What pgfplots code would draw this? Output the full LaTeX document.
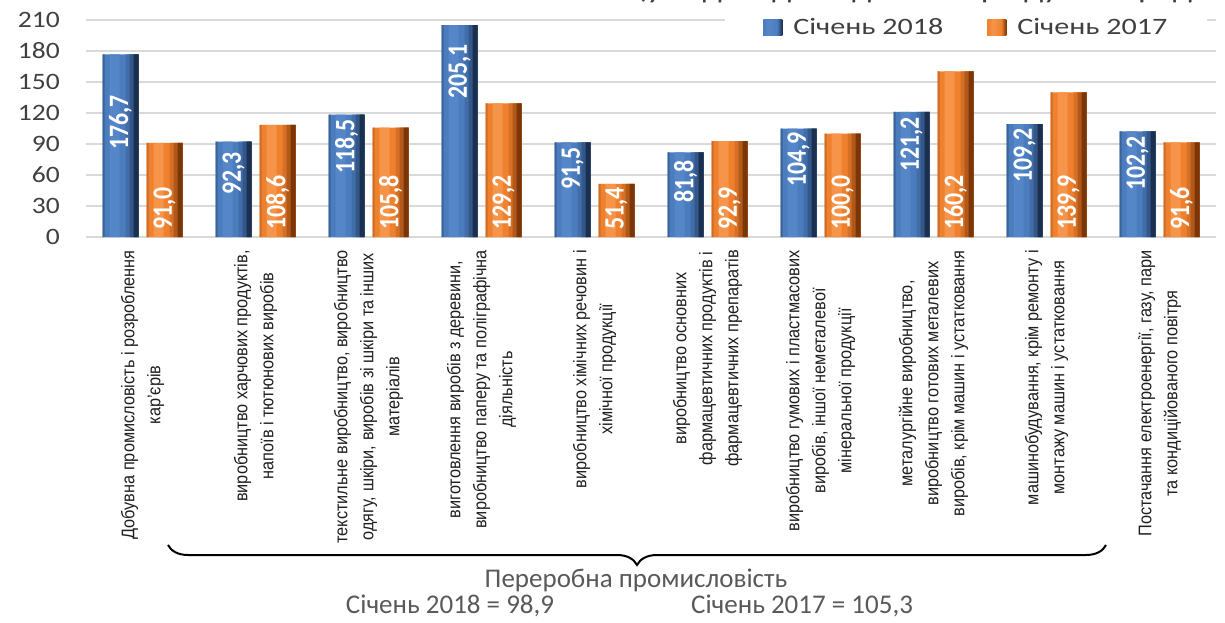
\documentclass[border=0pt]{standalone}
\usepackage{pgfplots}
\usepackage{pgfplotstable}
\pgfplotsset{compat=1.18}
\usepackage{fontspec}
\usetikzlibrary{decorations.pathreplacing}
\setmainfont{Carlito}
\newfontfamily\tickfont[FakeStretch=1.17]{Carlito}
\newfontfamily\legfont[FakeStretch=1.28]{Carlito}
\newfontfamily\valfont[FakeStretch=0.85]{Carlito}
\newfontfamily\catfont[FakeStretch=0.89]{Liberation Sans}

\definecolor{bL}{HTML}{5486C8}
\definecolor{bM}{HTML}{4A7CBE}
\definecolor{bD}{HTML}{1B2F4E}
\definecolor{oL}{HTML}{F6944A}
\definecolor{oM}{HTML}{EF812E}
\definecolor{oD}{HTML}{7A3508}
\definecolor{gridc}{HTML}{D9D9D9}
\definecolor{txt}{HTML}{404040}
\definecolor{txt2}{HTML}{595959}

\pgfdeclarehorizontalshading{blueshade}{100bp}{color(0bp)=(bM); color(25bp)=(bM); color(40bp)=(bL); color(62bp)=(bM); color(75bp)=(bD); color(100bp)=(bD)}
\pgfdeclarehorizontalshading{orangeshade}{100bp}{color(0bp)=(oM); color(25bp)=(oM); color(40bp)=(oL); color(62bp)=(oM); color(75bp)=(oD); color(100bp)=(oD)}

% x, value Jan 2018, value Jan 2017, position of the top of the Jan 2018 label
\pgfplotstableread{
x y18 y17 lp18
0 176.7 91.0 139.4
1 92.3 108.6 84.2
2 118.5 105.8 116.1
3 205.1 129.2 188.7
4 91.5 51.4 89.0
5 81.8 92.9 76.5
6 104.9 100.0 103.5
7 121.2 160.2 118.1
8 109.2 139.9 107.4
9 102.2 91.6 99.7
}\datatable

\newcommand{\valnum}{\pgfmathprintnumber[fixed, fixed zerofill, precision=1, use comma]{\pgfplotspointmeta}}

\begin{document}
\begin{tikzpicture}
\useasboundingbox (0pt,0pt) rectangle (1225pt,-623pt);
\begin{axis}[
  at={(86pt,-237pt)}, anchor=south west,
  scale only axis, width=1130pt, height=217pt,
  xmin=-0.5, xmax=9.5, ymin=0, ymax=210,
  ytick={0,30,...,210},
  ymajorgrids, major grid style={draw=gridc, line width=1.3pt},
  axis line style={draw=none},
  major tick length=0pt,
  xtick={0,...,9},
  xticklabels={
    {Добувна промисловість і розроблення\\кар’єрів},
    {виробництво  харчових продуктів,\\напоїв і тютюнових виробів},
    {текстильне виробництво, виробництво\\одягу, шкіри, виробів зі шкіри та інших\\матеріалів},
    {виготовлення виробів з деревини,\\виробництво паперу та поліграфічна\\діяльність},
    {виробництво хімічних речовин і\\хімічної продукції},
    {виробництво основних\\фармацевтичних продуктів і\\фармацевтичних препаратів},
    {виробництво гумових і пластмасових\\виробів, іншої неметалевої\\мінеральної продукції},
    {металургійне виробництво,\\виробництво готових металевих\\виробів, крім машин і устатковання},
    {машинобудування, крім ремонту і\\монтажу машин і устатковання},
    {Постачання електроенергії,  газу, пари\\та кондиційованого повітря}},
  xticklabel style={rotate=90, anchor=east, align=center, inner sep=0pt,
    font=\catfont\fontsize{18.3}{26}\selectfont, text=black!88},
  xticklabel shift=13pt,
  yticklabel style={font=\tickfont\fontsize{23.5}{24}\selectfont, text=txt, inner sep=0pt},
  yticklabel shift=26pt,
  /pgf/number format/assume math mode=true,
  clip=false,
  legend style={at={(0.5655,0.965)}, anchor=west, draw=none, fill=white,
    inner xsep=38pt, inner ysep=6pt,
    font=\legfont\fontsize{23.5}{24}\selectfont, text=txt,
    legend columns=2,
    /tikz/every odd column/.append style={column sep=9pt},
    /tikz/every even column/.append style={column sep=42pt}},
]
% blue bars (Січень 2018)
\addplot[ybar, bar width=36pt, bar shift=-22pt, draw=none, fill=bM,
  legend image code/.code={\shade[shading=blueshade] (0pt,-8pt) rectangle (19pt,8pt);}]
  table[x=x, y=y18] {\datatable};
\addlegendentry{Січень 2018}
% orange bars (Січень 2017)
\addplot[ybar, bar width=36pt, bar shift=22pt, draw=none, fill=oM,
  legend image code/.code={\shade[shading=orangeshade] (0pt,-8pt) rectangle (19pt,8pt);}]
  table[x=x, y=y17] {\datatable};
\addlegendentry{Січень 2017}
% shading strips on the bars
\addplot[forget plot, ybar, bar width=2pt, bar shift=-39pt, draw=none, fill=bM!80!black] table[x=x, y=y18] {\datatable};
\addplot[forget plot, ybar, bar width=10pt, bar shift=-28pt, draw=none, fill=bL] table[x=x, y=y18] {\datatable};
\addplot[forget plot, ybar, bar width=13pt, bar shift=-10.5pt, draw=none, fill=bM!80!bD] table[x=x, y=y18] {\datatable};
\addplot[forget plot, ybar, bar width=9pt, bar shift=-8.5pt, draw=none, fill=bM!52!bD] table[x=x, y=y18] {\datatable};
\addplot[forget plot, ybar, bar width=5pt, bar shift=-6.5pt, draw=none, fill=bD] table[x=x, y=y18] {\datatable};
\addplot[forget plot, ybar, bar width=2pt, bar shift=5pt, draw=none, fill=oM!85!black] table[x=x, y=y17] {\datatable};
\addplot[forget plot, ybar, bar width=10pt, bar shift=16pt, draw=none, fill=oL] table[x=x, y=y17] {\datatable};
\addplot[forget plot, ybar, bar width=13pt, bar shift=33.5pt, draw=none, fill=oM!78!oD] table[x=x, y=y17] {\datatable};
\addplot[forget plot, ybar, bar width=9pt, bar shift=35.5pt, draw=none, fill=oM!48!oD] table[x=x, y=y17] {\datatable};
\addplot[forget plot, ybar, bar width=5pt, bar shift=37.5pt, draw=none, fill=oD] table[x=x, y=y17] {\datatable};
% value labels
\addplot[forget plot, draw=none, mark=none, point meta=explicit,
  nodes near coords=\valnum,
  every node near coord/.style={xshift=-22pt, rotate=90, anchor=east, text=white,
    font=\valfont\bfseries\fontsize{28}{28}\selectfont, inner xsep=2pt, inner ysep=0pt}]
  table[x=x, y=lp18, meta=y18] {\datatable};
\addplot[forget plot, draw=none, mark=none, point meta=explicit,
  nodes near coords=\valnum,
  every node near coord/.style={xshift=22pt, rotate=90, anchor=west, text=white,
    font=\valfont\bfseries\fontsize{28}{28}\selectfont, inner xsep=7pt, inner ysep=0pt}]
  table[x=x, y expr=0, meta=y17] {\datatable};
\end{axis}
\node[overlay, anchor=base west, inner sep=0pt, font=\legfont\fontsize{27}{27}\selectfont, text=txt] at (636pt,1pt) {(у \% до відповідного періоду попереднього року)};
\draw[line width=2pt, decorate, decoration={brace, mirror, amplitude=20pt}] (168pt,-545pt) -- (1106pt,-545pt);
\node[anchor=base, inner sep=0pt, font=\fontsize{27}{27}\selectfont, text=txt2] at (636pt,-587pt) {Переробна промисловість};
\node[anchor=base, inner sep=0pt, font=\fontsize{27}{27}\selectfont, text=txt2] at (450pt,-613pt) {Січень 2018 = 98,9};
\node[anchor=base, inner sep=0pt, font=\fontsize{27}{27}\selectfont, text=txt2] at (802pt,-613pt) {Січень 2017 = 105,3};
\end{tikzpicture}
\end{document}
